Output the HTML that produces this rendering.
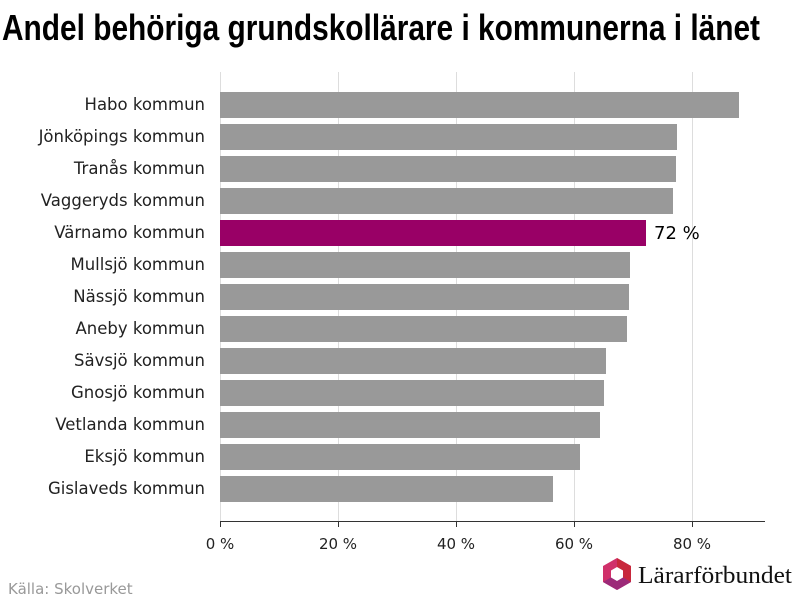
<!DOCTYPE html>
<html><head><meta charset="utf-8"><style>body{margin:0;background:#fff}svg{display:block}</style></head><body>
<svg width="800" height="600" xmlns="http://www.w3.org/2000/svg" font-family="'DejaVu Sans','Liberation Sans',sans-serif">
<rect width="800" height="600" fill="#fff"/>
<text x="2" y="40" font-family="'Liberation Sans Narrow','Liberation Sans',sans-serif" font-weight="bold" font-size="36" textLength="758" lengthAdjust="spacingAndGlyphs" fill="#000">Andel behöriga grundskollärare i kommunerna i länet</text>
<g stroke="#ddd" stroke-width="1">
<line x1="338.5" y1="72" x2="338.5" y2="521"/><line x1="456.5" y1="72" x2="456.5" y2="521"/><line x1="574.5" y1="72" x2="574.5" y2="521"/><line x1="692.5" y1="72" x2="692.5" y2="521"/><line x1="220.5" y1="72" x2="220.5" y2="521"/>
</g>
<g fill="#999">
<rect x="220" y="92" width="519" height="26"/>
<rect x="220" y="124" width="457" height="26"/>
<rect x="220" y="156" width="456" height="26"/>
<rect x="220" y="188" width="453" height="26"/>
<rect x="220" y="220" width="426" height="26" fill="#990066"/>
<rect x="220" y="252" width="410" height="26"/>
<rect x="220" y="284" width="409" height="26"/>
<rect x="220" y="316" width="407" height="26"/>
<rect x="220" y="348" width="386" height="26"/>
<rect x="220" y="380" width="384" height="26"/>
<rect x="220" y="412" width="380" height="26"/>
<rect x="220" y="444" width="360" height="26"/>
<rect x="220" y="476" width="333" height="26"/>
</g>
<text x="654" y="239" font-size="18" fill="#000">72 %</text>
<g font-size="16.5" fill="#222" text-anchor="end">
<text x="205" y="110">Habo kommun</text>
<text x="205" y="142">Jönköpings kommun</text>
<text x="205" y="174">Tranås kommun</text>
<text x="205" y="206">Vaggeryds kommun</text>
<text x="205" y="238">Värnamo kommun</text>
<text x="205" y="270">Mullsjö kommun</text>
<text x="205" y="302">Nässjö kommun</text>
<text x="205" y="334">Aneby kommun</text>
<text x="205" y="366">Sävsjö kommun</text>
<text x="205" y="398">Gnosjö kommun</text>
<text x="205" y="430">Vetlanda kommun</text>
<text x="205" y="462">Eksjö kommun</text>
<text x="205" y="494">Gislaveds kommun</text>
</g>
<line x1="220" y1="521.5" x2="765" y2="521.5" stroke="#333" stroke-width="1"/>
<g stroke="#333"><line x1="220.5" y1="521" x2="220.5" y2="527"/><line x1="338.5" y1="521" x2="338.5" y2="527"/><line x1="456.5" y1="521" x2="456.5" y2="527"/><line x1="574.5" y1="521" x2="574.5" y2="527"/><line x1="692.5" y1="521" x2="692.5" y2="527"/></g>
<g font-size="15" fill="#222" text-anchor="middle">
<text x="220" y="549">0 %</text><text x="338" y="549">20 %</text><text x="456" y="549">40 %</text><text x="574" y="549">60 %</text><text x="692" y="549">80 %</text>
</g>
<text x="8" y="594" font-size="15" fill="#999">Källa: Skolverket</text>
<g transform="translate(603,558)">
<polygon points="14,0 28,8 28,24 14,32 0,24 0,8" fill="#d0306a"/>
<polygon points="14,0 28,8 28,24 14,16" fill="#c8283c"/>
<polygon points="0,24 14,32 28,24 14,16" fill="#9c2a78"/>
<polygon points="14,9 20,12.5 20,19.5 14,23 8,19.5 8,12.5" fill="#fff"/>
</g>
<text x="638" y="583" font-family="'Liberation Serif',serif" font-size="24" textLength="154" lengthAdjust="spacingAndGlyphs" fill="#111">Lärarförbundet</text>
</svg>
</body></html>
